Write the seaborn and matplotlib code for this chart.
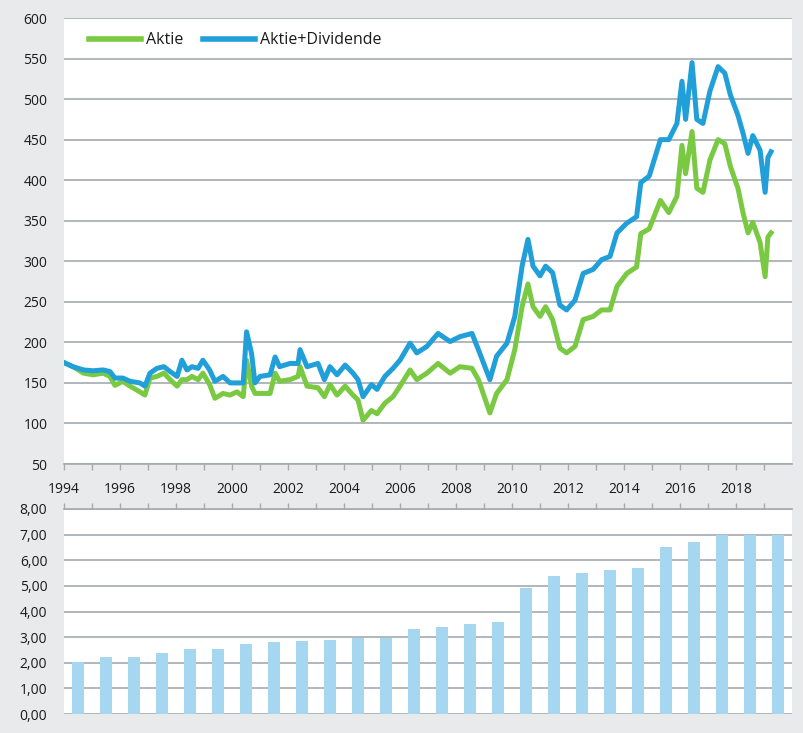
import matplotlib
matplotlib.use("Agg")
import matplotlib.pyplot as plt
import seaborn as sns
import pandas as pd
from matplotlib.ticker import FuncFormatter, MultipleLocator

# kursdaten (ca. vierteljaehrlich)
years = [1994.0, 1994.32, 1994.7, 1995.04, 1995.4, 1995.64, 1995.82, 1996.1, 1996.36, 1996.71,
         1996.89, 1997.07, 1997.32, 1997.57, 1997.79, 1998.04, 1998.21, 1998.39, 1998.57, 1998.79,
         1998.96, 1999.2, 1999.39, 1999.68, 1999.93, 2000.18, 2000.4, 2000.52, 2000.7, 2000.82,
         2001.0, 2001.36, 2001.54, 2001.7, 2002.07, 2002.36, 2002.43, 2002.68, 2003.07, 2003.3,
         2003.5, 2003.75, 2004.04, 2004.32, 2004.5, 2004.68, 2004.98, 2005.18, 2005.46, 2005.75,
         2006.0, 2006.36, 2006.6, 2006.96, 2007.36, 2007.79, 2008.14, 2008.57, 2008.8, 2009.21,
         2009.45, 2009.82, 2010.1, 2010.36, 2010.57, 2010.75, 2011.0, 2011.2, 2011.45, 2011.71,
         2011.95, 2012.25, 2012.54, 2012.9, 2013.2, 2013.5, 2013.75, 2014.1, 2014.45, 2014.6,
         2014.9, 2015.3, 2015.6, 2015.89, 2016.07, 2016.2, 2016.43, 2016.6, 2016.82, 2017.07,
         2017.36, 2017.6, 2017.8, 2018.07, 2018.25, 2018.43, 2018.6, 2018.86, 2019.04, 2019.14,
         2019.25]
aktie = [175, 170, 162, 160, 162, 158, 147, 152, 146, 139,
         135, 156, 158, 162, 154, 146, 154, 154, 158, 154,
         162, 148, 131, 137, 135, 139, 133, 178, 146, 137,
         137, 137, 162, 152, 154, 158, 170, 146, 144, 133,
         148, 135, 146, 135, 129, 104, 116, 112, 125, 133,
         146, 166, 154, 162, 174, 162, 170, 168, 154, 113,
         137, 154, 191, 244, 272, 244, 232, 244, 228, 193,
         187, 195, 228, 232, 240, 240, 269, 285, 293, 334,
         340, 375, 360, 380, 443, 408, 460, 390, 385, 425,
         450, 445, 417, 390, 360, 335, 348, 323, 281, 330,
         335]
aktie_div = [175, 170, 166, 165, 166, 164, 156, 156, 152, 150,
             146, 162, 168, 170, 164, 158, 178, 166, 170, 168,
             178, 166, 152, 158, 150, 150, 150, 213, 186, 150,
             158, 160, 182, 170, 174, 174, 191, 170, 174, 154,
             170, 160, 172, 162, 154, 133, 148, 142, 158, 168,
             178, 199, 187, 195, 211, 201, 207, 211, 191, 154,
             183, 199, 232, 294, 327, 294, 282, 294, 286, 246,
             240, 252, 285, 290, 302, 306, 335, 347, 355, 397,
             405, 450, 450, 470, 522, 475, 545, 475, 470, 510,
             540, 532, 505, 480, 458, 433, 455, 437, 385, 428,
             435]

# dividende je jahr
div_years = list(range(1994, 2020))
dividende = [2.04, 2.23, 2.23, 2.39, 2.55, 2.55, 2.74, 2.82, 2.86, 2.90,
             2.97, 2.97, 3.32, 3.40, 3.52, 3.60, 4.91, 5.39, 5.51, 5.61,
             5.70, 6.51, 6.71, 7.00, 7.00, 7.00]

bg = "#e9eaec"
grid_col = "#a3abb1"
green = "#7ac943"
blue = "#209fd9"
bar_col = "#a6d7f1"

plt.rcParams["font.family"] = ["Open Sans", "DejaVu Sans"]
plt.rcParams["font.size"] = 10
plt.rcParams["text.color"] = "#1a1a1a"

fig = plt.figure(figsize=(8.04, 7.33), dpi=100, facecolor=bg)
ax = fig.add_axes([64/804, 1-464/733, (792-64)/804, (464-18)/733])
ax2 = fig.add_axes([64/804, 1-714/733, (792-64)/804, (714-509)/733])

sns.lineplot(x=years, y=aktie, ax=ax, color=green, linewidth=3.6, label="Aktie")
sns.lineplot(x=years, y=aktie_div, ax=ax, color=blue, linewidth=3.6, label="Aktie+Dividende")

ax.set_xlim(1994, 2020)
ax.set_ylim(50, 600)
ax.yaxis.set_major_locator(MultipleLocator(50))
ax.set_xticks(range(1994, 2020))
ax.set_xticklabels([str(y) if y % 2 == 0 else "" for y in range(1994, 2020)])
ax.grid(axis="y", color=grid_col, linewidth=1.2)
ax.set_axisbelow(True)
for s in ["top", "right", "left"]:
    ax.spines[s].set_visible(False)
ax.spines["bottom"].set_color(grid_col)
ax.spines["bottom"].set_linewidth(1.2)
ax.tick_params(axis="y", length=0, pad=12, labelsize=10, labelcolor="#1a1a1a")
ax.tick_params(axis="x", length=4, width=1, color=grid_col, pad=9, labelsize=10, labelcolor="#1a1a1a")
ax.set_xlabel("")
ax.set_ylabel("")
ax.legend(loc="upper left", bbox_to_anchor=(0.014, 1.0), ncol=2, frameon=False,
          handlelength=3.3, handletextpad=0.3, columnspacing=1.2, fontsize=11.5)
for line in ax.get_legend().get_lines():
    line.set_linewidth(4)

df_div = pd.DataFrame({"Jahr": [y + 0.5 for y in div_years], "Dividende": dividende})
sns.barplot(data=df_div, x="Jahr", y="Dividende", ax=ax2, color=bar_col, width=0.46,
            native_scale=True, saturation=1)
ax2.set_xlim(1994, 2020)
ax2.set_ylim(0, 8)
ax2.yaxis.set_major_locator(MultipleLocator(1))
ax2.yaxis.set_major_formatter(FuncFormatter(lambda v, p: f"{v:.2f}".replace(".", ",")))
ax2.set_xticks(range(1994, 2020))
ax2.set_xticklabels([])
ax2.xaxis.tick_top()
ax2.grid(axis="y", color=grid_col, linewidth=1.2)
ax2.set_axisbelow(True)
for s in ["right", "left", "bottom"]:
    ax2.spines[s].set_visible(False)
ax2.spines["top"].set_color(grid_col)
ax2.spines["top"].set_linewidth(1.2)
ax2.tick_params(axis="y", length=0, pad=12, labelsize=10, labelcolor="#1a1a1a")
ax2.tick_params(axis="x", length=4, width=1, color=grid_col)
ax2.set_xlabel("")
ax2.set_ylabel("")

fig.savefig("out.png", dpi=100, facecolor=bg)
